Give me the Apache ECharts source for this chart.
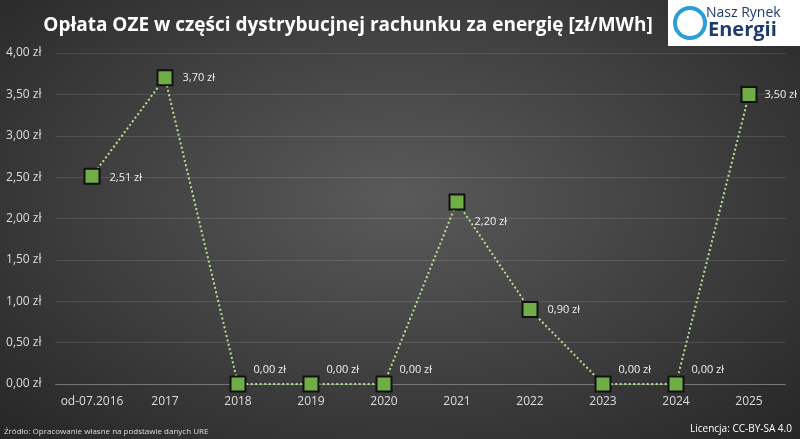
<!DOCTYPE html>
<html><head><meta charset="utf-8">
<script src="https://cdn.jsdelivr.net/npm/echarts@6/dist/echarts.min.js"></script>
<style>html,body{margin:0;padding:0;}#c{width:800px;height:439px;background:radial-gradient(ellipse at 50% 45%,#5a5a5a 0%,#3e3e3e 55%,#262626 100%);}</style>
</head><body><div id="c"></div>
<script>
const categories=['od-07.2016','2017','2018','2019','2020','2021','2022','2023','2024','2025'];
const values=[2.51,3.70,0,0,0,2.20,0.90,0,0,3.50];
const yTicks=[0,0.5,1,1.5,2,2.5,3,3.5,4];
const fmt=v=>v.toFixed(2).replace('.',',')+' zł';
const labelOffsets=[[0,2],[0,0],[-2,-14],[-2,-14],[-2,-14],[0,20],[0,0],[-2,-14],[-2,-14],[-2,0]];
const chart=echarts.init(document.getElementById('c'),null,{renderer:'canvas'});
chart.setOption({
 backgroundColor:'transparent',
 title:{text:'Opłata OZE w części dystrybucjnej rachunku za energię [zł/MWh]',left:343,top:11,textAlign:'center',
  textStyle:{color:'#fff',fontSize:19,fontWeight:'bold',fontFamily:'Open Sans'}},
 graphic:[
  {type:'rect',shape:{x:668,y:0,width:132,height:46},style:{fill:'#fff'}},
  {type:'circle',shape:{cx:690,cy:23,r:15},style:{fill:'none',stroke:'#2a9fd6',lineWidth:4}},
  {type:'text',style:{x:706,y:6,text:'Nasz Rynek',fill:'#1f3b6e',font:'14px Open Sans'}},
  {type:'text',style:{x:708,y:20,text:'Energii',fill:'#1f3b6e',font:'bold 20px Open Sans'}},
  {type:'text',style:{x:4,y:428,text:'Źródło: Opracowanie własne na podstawie danych URE',fill:'#ddd',font:'8px Open Sans'}},
  {type:'text',style:{x:690,y:424,text:'Licencja: CC-BY-SA 4.0',fill:'#fff',font:'10px Open Sans'}}
 ],
 grid:{left:55.5,right:14.5,top:53,bottom:55},
 xAxis:{type:'category',data:categories,boundaryGap:true,
  axisLine:{lineStyle:{color:'#777'}},axisTick:{show:false},
  axisLabel:{color:'#ddd',fontSize:12,fontFamily:'Open Sans',margin:12,interval:0}},
 yAxis:{type:'value',min:0,max:4,interval:0.5,
  axisLabel:{color:'#ddd',fontSize:12,fontFamily:'Open Sans',formatter:v=>v.toFixed(2).replace('.',',')+' zł',margin:14},
  splitLine:{lineStyle:{color:'rgba(255,255,255,0.12)'}},axisLine:{show:false},axisTick:{show:false}},
 series:[{type:'line',data:values.map((v,i)=>({value:v,label:{offset:labelOffsets[i]}})),
  symbol:'rect',symbolSize:15,
  itemStyle:{color:'#70ad47',borderColor:'#111',borderWidth:2},
  lineStyle:{color:'#b5e08e',width:2,type:[2,2.5]},
  label:{show:true,position:'right',distance:9,color:'#eee',fontSize:11,fontFamily:'Open Sans',formatter:p=>fmt(p.value)}}]
});
</script></body></html>
